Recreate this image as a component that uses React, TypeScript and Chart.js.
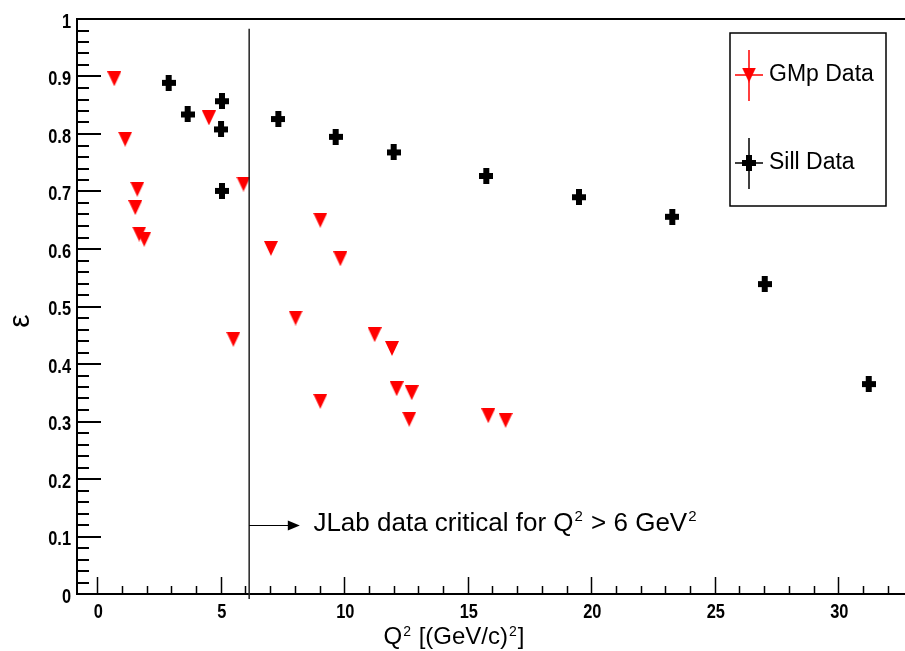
import { useEffect, useRef } from "react";
import { Chart, registerables } from "chart.js";

Chart.register(...registerables);

// ---- data ----
const gmpQ2 = [0.69, 1.13, 1.62, 1.54, 1.70, 1.90, 4.52, 5.92, 5.51, 7.03, 9.03, 9.84, 8.03, 9.03, 11.23, 11.93, 12.12, 12.73, 12.63, 15.83, 16.53];
const gmpEps = [0.896, 0.791, 0.704, 0.672, 0.626, 0.617, 0.828, 0.713, 0.443, 0.601, 0.650, 0.583, 0.480, 0.335, 0.451, 0.427, 0.357, 0.350, 0.304, 0.310, 0.302];

const sillQ2 = [2.89, 3.66, 5.05, 5.01, 5.05, 7.33, 9.65, 12.0, 15.75, 19.5, 23.28, 27.02, 31.23];
const sillEps = [0.889, 0.834, 0.857, 0.808, 0.701, 0.826, 0.795, 0.768, 0.727, 0.690, 0.656, 0.539, 0.365];

const seriesLabels = ["GMp Data", "Sill Data"];
const seriesColors = ["#ff0000", "#000000"];

const xRange = [-0.82, 32.7];
const yRange = [0, 1];
const xMajorStep = 5;
const yMajorStep = 0.1;

const cutQ2 = 6.15;
const noteParts = ["JLab data critical for Q", "2", " > 6 GeV", "2"];
const xTitleParts = ["Q", "2", " [(GeV/c)", "2", "]"];
const yTitle = "ε";

const TEXT_FONT = "'Liberation Sans', Arial, sans-serif";

function makeTriangle(color: string) {
  const c = document.createElement("canvas");
  c.width = 14;
  c.height = 15;
  const g = c.getContext("2d")!;
  g.fillStyle = color;
  g.beginPath();
  g.moveTo(0, 0);
  g.lineTo(14, 0);
  g.lineTo(7, 15);
  g.closePath();
  g.fill();
  return c;
}

function makeCross(color: string) {
  const c = document.createElement("canvas");
  c.width = 14;
  c.height = 16;
  const g = c.getContext("2d")!;
  g.fillStyle = color;
  g.fillRect(0, 5, 14, 6);
  g.fillRect(4, 0, 6, 16);
  return c;
}

function fmtTick(v: number) {
  return String(Math.round(v * 10) / 10);
}

// draw text made of alternating normal / superscript parts
function drawSupText(ctx: CanvasRenderingContext2D, parts: string[], x: number, base: number, size: number, supSize: number, raise: number, align: "left" | "center") {
  ctx.textBaseline = "alphabetic";
  ctx.textAlign = "left";
  const widths = parts.map((p, i) => {
    ctx.font = `${i % 2 === 1 ? supSize : size}px ${TEXT_FONT}`;
    return ctx.measureText(p).width + (i % 2 === 1 ? 2 : 0);
  });
  const total = widths.reduce((a, b) => a + b, 0);
  let tx = align === "center" ? x - total / 2 : x;
  parts.forEach((p, i) => {
    const sup = i % 2 === 1;
    ctx.font = `${sup ? supSize : size}px ${TEXT_FONT}`;
    ctx.fillText(p, tx + (sup ? 1 : 0), sup ? base - raise : base);
    tx += widths[i];
  });
}

export default function App() {
  const ref = useRef<HTMLCanvasElement | null>(null);

  useEffect(() => {
    if (!ref.current) return;
    const tri = makeTriangle(seriesColors[0]);
    const cross = makeCross(seriesColors[1]);
    const styles = [tri, cross];

    const rootPlugin = {
      id: "rootDecor",
      afterDraw(chart: any) {
        const { ctx, chartArea } = chart;
        const { left, top, right, bottom } = chartArea;
        const x = chart.scales.x;
        const y = chart.scales.y;
        ctx.save();

        // frame
        ctx.strokeStyle = "#000";
        ctx.lineWidth = 2;
        ctx.beginPath();
        ctx.moveTo(left, bottom + 1);
        ctx.lineTo(left, top);
        ctx.lineTo(right + 5, top);
        ctx.moveTo(left - 1, bottom);
        ctx.lineTo(right + 5, bottom);
        ctx.stroke();

        // y ticks (inward)
        ctx.beginPath();
        const nY = Math.round((yRange[1] - yRange[0]) / (yMajorStep / 5));
        for (let i = 0; i <= nY; i++) {
          const v = yRange[0] + i * (yMajorStep / 5);
          const py = Math.round(y.getPixelForValue(v));
          const len = i % 5 === 0 ? 24 : 12;
          ctx.moveTo(left, py);
          ctx.lineTo(left + len, py);
        }
        ctx.stroke();

        // x ticks (upward)
        ctx.lineWidth = 1.5;
        ctx.beginPath();
        for (let v = Math.ceil(x.min); v <= x.max; v++) {
          const px = Math.round(x.getPixelForValue(v)) + 0.5;
          const len = v % xMajorStep === 0 ? 17 : 8;
          ctx.moveTo(px, bottom);
          ctx.lineTo(px, bottom - len);
        }
        ctx.stroke();

        // tick labels (narrow bold, ROOT-like)
        ctx.fillStyle = "#000";
        ctx.font = `bold 20px ${TEXT_FONT}`;
        y.ticks.forEach((t: any) => {
          const py = y.getPixelForValue(t.value);
          ctx.save();
          ctx.translate(71, py + 3);
          ctx.scale(0.82, 1);
          ctx.textAlign = "right";
          ctx.textBaseline = "middle";
          ctx.fillText(fmtTick(t.value), 0, 0);
          ctx.restore();
        });
        x.ticks.forEach((t: any) => {
          const px = x.getPixelForValue(t.value);
          ctx.save();
          ctx.translate(px + 1, 612);
          ctx.scale(0.82, 1);
          ctx.textAlign = "center";
          ctx.textBaseline = "middle";
          ctx.fillText(String(t.value), 0, 0);
          ctx.restore();
        });

        // JLab cut line
        const cx = x.getPixelForValue(cutQ2);
        ctx.strokeStyle = "#222";
        ctx.lineWidth = 1.5;
        ctx.beginPath();
        ctx.moveTo(cx, y.getPixelForValue(0.983));
        ctx.lineTo(cx, bottom + 5);
        ctx.stroke();

        // arrow
        const ay = Math.round(y.getPixelForValue(0.12)) + 0.5;
        const tip = x.getPixelForValue(8.2);
        ctx.strokeStyle = "#000";
        ctx.lineWidth = 1;
        ctx.beginPath();
        ctx.moveTo(cx, ay);
        ctx.lineTo(tip - 10, ay);
        ctx.stroke();
        ctx.fillStyle = "#000";
        ctx.beginPath();
        ctx.moveTo(tip, ay);
        ctx.lineTo(tip - 12, ay - 5);
        ctx.lineTo(tip - 12, ay + 5);
        ctx.closePath();
        ctx.fill();

        // note text
        drawSupText(ctx, noteParts, x.getPixelForValue(8.75), ay + 5, 26, 15, 10, "left");

        // axis titles
        drawSupText(ctx, xTitleParts, 454, 644, 24, 14, 8, "center");
        ctx.save();
        ctx.translate(21, 321);
        ctx.rotate(-Math.PI / 2);
        ctx.textAlign = "center";
        ctx.textBaseline = "middle";
        ctx.font = `30px ${TEXT_FONT}`;
        ctx.fillText(yTitle, 0, 0);
        ctx.restore();

        // legend
        const bx = 730, by = 33, bw = 156, bh = 173;
        ctx.fillStyle = "#fff";
        ctx.fillRect(bx, by, bw, bh);
        ctx.strokeStyle = "#000";
        ctx.lineWidth = 1.5;
        ctx.strokeRect(bx, by, bw, bh);
        const rows = [75, 163];
        chart.data.datasets.forEach((ds: any, i: number) => {
          const ry = rows[i];
          const mx = 749;
          ctx.strokeStyle = ds.borderColor;
          ctx.lineWidth = 1.5;
          ctx.beginPath();
          ctx.moveTo(mx, ry - 25);
          ctx.lineTo(mx, ry + 26);
          ctx.moveTo(mx - 14, ry);
          ctx.lineTo(mx + 14, ry);
          ctx.stroke();
          const img = styles[i];
          ctx.drawImage(img, mx - img.width / 2, ry - img.height / 2);
          ctx.fillStyle = "#000";
          ctx.font = `23px ${TEXT_FONT}`;
          ctx.textBaseline = "middle";
          ctx.textAlign = "left";
          ctx.fillText(ds.label, 769, ry);
        });

        ctx.restore();
      },
    };

    const chart = new Chart(ref.current, {
      type: "scatter",
      data: {
        datasets: [
          {
            label: seriesLabels[0],
            data: gmpQ2.map((q, i) => ({ x: q, y: gmpEps[i] })),
            pointStyle: tri as any,
            borderColor: seriesColors[0],
            backgroundColor: seriesColors[0],
          },
          {
            label: seriesLabels[1],
            data: sillQ2.map((q, i) => ({ x: q, y: sillEps[i] })),
            pointStyle: cross as any,
            borderColor: seriesColors[1],
            backgroundColor: seriesColors[1],
          },
        ],
      },
      options: {
        animation: false,
        responsive: false,
        events: [],
        layout: { autoPadding: false, padding: { top: 19, left: 0, right: 0, bottom: 0 } },
        plugins: {
          legend: { display: false },
          tooltip: { enabled: false },
        },
        scales: {
          x: {
            type: "linear",
            min: xRange[0],
            max: xRange[1],
            grid: { display: false, drawTicks: false },
            border: { display: false },
            afterFit: (s: any) => {
              s.height = 57;
              s.paddingLeft = 0;
              s.paddingRight = 0;
            },
            ticks: {
              display: false,
              stepSize: xMajorStep,
              includeBounds: false,
              autoSkip: false,
            },
          },
          y: {
            type: "linear",
            min: yRange[0],
            max: yRange[1],
            grid: { display: false, drawTicks: false },
            border: { display: false },
            afterFit: (s: any) => {
              s.width = 77;
              s.paddingTop = 0;
              s.paddingBottom = 0;
            },
            ticks: {
              display: false,
              stepSize: yMajorStep,
              includeBounds: false,
              autoSkip: false,
            },
          },
        },
      },
      plugins: [rootPlugin],
    });

    return () => chart.destroy();
  }, []);

  return (
    <div style={{ position: "fixed", left: 0, top: 0, width: 905, height: 651, background: "#fff" }}>
      <canvas ref={ref} width={905} height={651} style={{ display: "block" }} />
    </div>
  );
}
